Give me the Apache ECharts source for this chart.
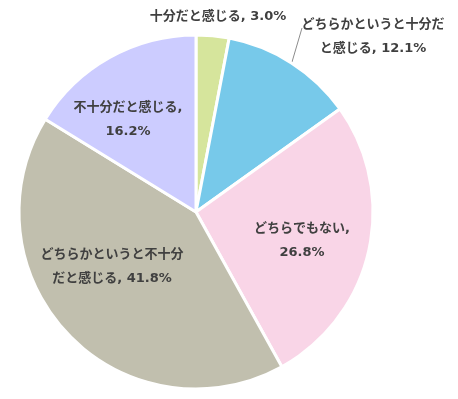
<!DOCTYPE html>
<html>
<head>
<meta charset="utf-8">
<script src="https://cdn.jsdelivr.net/npm/echarts@6/dist/echarts.min.js"></script>
<style>
  html, body { margin: 0; padding: 0; background: #fff; }
  #chart { width: 458px; height: 399px; }
</style>
</head>
<body>
<div id="chart"></div>
<script>
// カテゴリと値（%）
const categories = ['十分だと感じる', 'どちらかというと十分だと感じる', 'どちらでもない', 'どちらかというと不十分だと感じる', '不十分だと感じる']
const values = [3.0, 12.1, 26.8, 41.8, 16.2]
// ラベルの改行位置（カテゴリ名の何文字目で折り返すか、0 は折り返しなし）
const breakAt = [0, 11, 0, 11, 0]
const breakAfterComma = [false, false, true, false, true]
const colors = ['#d6e59c', '#77c9ea', '#f9d5e7', '#c1bfae', '#ccccff']

// ラベルの位置
const labelPos = [
  [218, 17],
  [373, 37],
  [302, 241],
  [112, 267],
  [128, 120]
]

const myChart = echarts.init(document.getElementById('chart'))

const option = {
  color: colors,
  animation: false,
  series: [
    {
      type: 'pie',
      center: [196, 212],
      radius: 177,
      startAngle: 90,
      clockwise: true,
      avoidLabelOverlap: false,
      itemStyle: {
        borderColor: '#fff',
        borderWidth: 3
      },
      label: {
        show: true,
        position: 'outside',
        color: '#404040',
        fontFamily: '"DejaVu Sans", "Noto Sans CJK JP", sans-serif',
        fontWeight: 'bold',
        fontSize: 13,
        lineHeight: 24,
        align: 'center',
        overflow: 'none',
        formatter: function (p) {
          const i = p.dataIndex
          let name = p.name
          const v = p.value.toFixed(1) + '%'
          if (breakAfterComma[i]) return name + ',\n' + v
          if (breakAt[i] > 0) name = name.slice(0, breakAt[i]) + '\n' + name.slice(breakAt[i])
          return name + ', ' + v
        }
      },
      labelLine: {
        show: true,
        lineStyle: { color: '#8c8c8c', width: 1 }
      },
      labelLayout: function (params) {
        const i = params.dataIndex
        const res = {
          x: labelPos[i][0],
          y: labelPos[i][1],
          align: 'center',
          verticalAlign: 'middle',
          hideOverlap: false
        }
        if (i === 1) {
          res.labelLinePoints = [[292, 62], [302, 28], [302, 28]]
        }
        return res
      },
      data: categories.map(function (c, i) {
        return {
          name: c,
          value: values[i],
          labelLine: { show: i === 1 }
        }
      })
    }
  ]
}

myChart.clear()
myChart.setOption(option)
</script>
</body>
</html>
